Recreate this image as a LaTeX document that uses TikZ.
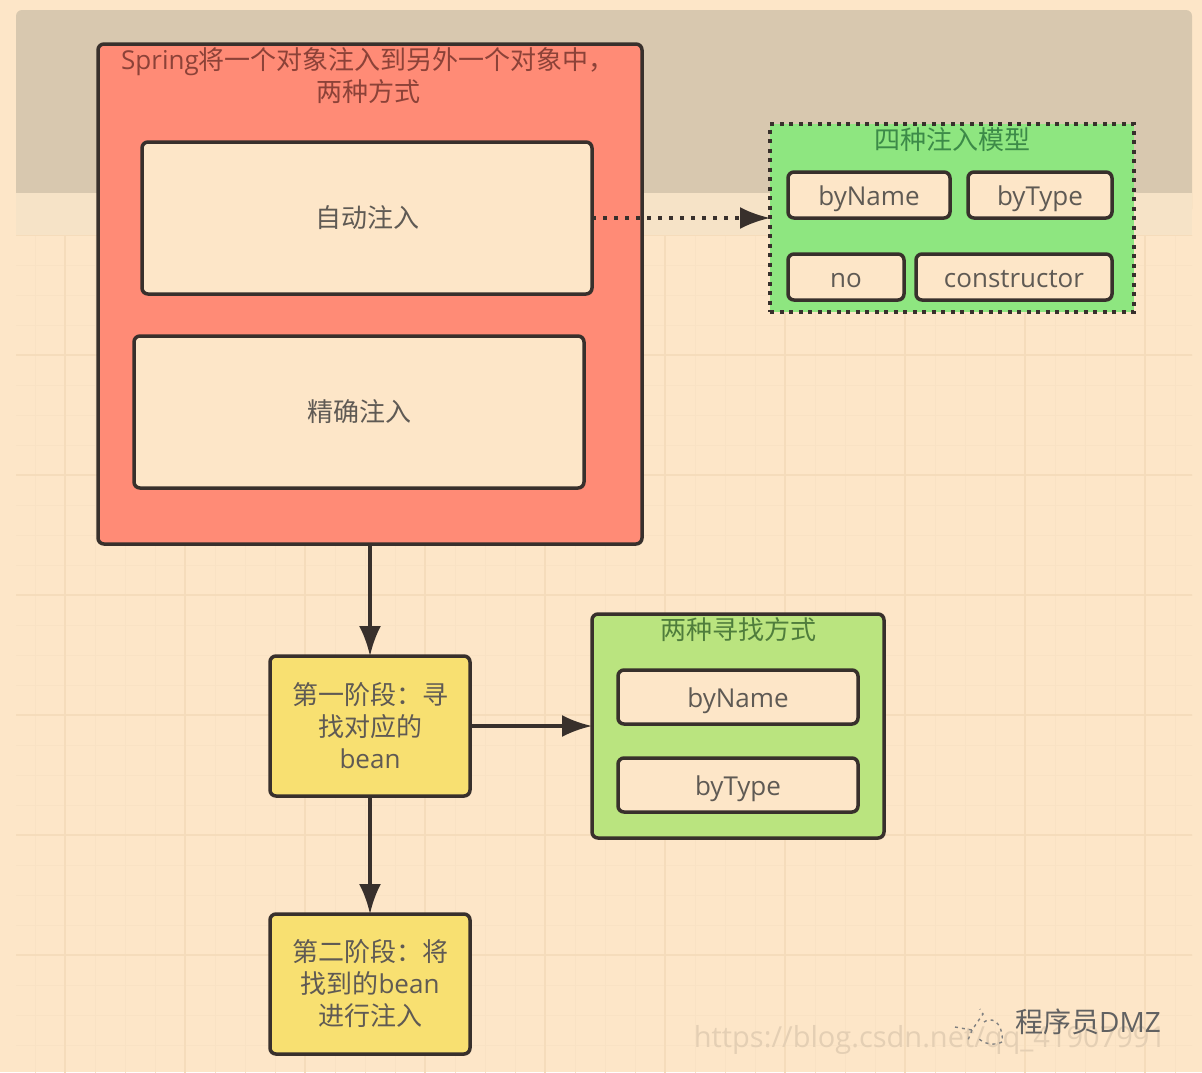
\documentclass[tikz,border=0pt]{standalone}
\usepackage{fontspec}
\setmainfont{Open Sans}
\newfontfamily\cjk{Noto Sans CJK SC}
\usetikzlibrary{arrows.meta,positioning}
\definecolor{pagebg}{HTML}{FDE6C8}
\definecolor{bandbg}{HTML}{D8C8AF}
\definecolor{stripbg}{HTML}{F6E3C7}
\definecolor{gridminor}{HTML}{F9E2C4}
\definecolor{gridmajor}{HTML}{F5DCBB}
\definecolor{redbg}{HTML}{FF8B76}
\definecolor{greenbg}{HTML}{8EE680}
\definecolor{limebg}{HTML}{BAE47F}
\definecolor{yellowbg}{HTML}{F8E071}
\definecolor{edgedark}{HTML}{38302C}
\definecolor{textgrey}{HTML}{5F5A54}
\definecolor{redtitle}{HTML}{8C4238}
\definecolor{greentitle}{HTML}{3C8A48}
\definecolor{limetitle}{HTML}{4F7D3C}
\tikzset{
    basic/.style  = {draw=edgedark, line width=3.5pt, rectangle, rounded corners=6pt, outer sep=0pt, inner sep=2pt, align=center, font=\fontsize{26}{32}\selectfont, text=textgrey},
    outer red/.style = {basic, fill=redbg, minimum width=544pt, minimum height=500pt},
    inner box/.style = {basic, fill=pagebg},
    wide entry/.style = {inner box, minimum width=450pt, minimum height=152pt},
    word entry/.style = {inner box, text height=20pt, text depth=0pt},
    phase/.style = {basic, fill=yellowbg, minimum width=200pt, minimum height=140pt},
    model group/.style = {basic, rounded corners=0pt, fill=greenbg, dash pattern=on 4pt off 5.5pt, line width=4pt, minimum width=364pt, minimum height=188pt},
    search group/.style = {basic, fill=limebg, minimum width=292pt, minimum height=224pt},
    title/.style = {font=\fontsize{26}{32}\selectfont, align=center, inner sep=0pt},
    link/.style = {draw=edgedark, line width=3.5pt, -{Latex[length=30pt,width=22pt]}}
}
\begin{document}
\begin{tikzpicture}[x=1pt,y=-1pt]
	% page and screenshot backdrop
	\fill[pagebg] (0,0) rectangle (1202,1072);
	\fill[bandbg, rounded corners=6pt] (16,10) rectangle (1192,215);
	\fill[stripbg] (16,193) rectangle (1192,235);
	\begin{scope}
		\clip (16,235) rectangle (1192,1072);
		\draw[gridminor, line width=1pt, shift={(5,25)}, step=30pt] (0,200) grid (1200,1060);
		\draw[gridmajor, line width=1.2pt, shift={(65,235)}, step=120pt] (-120,0) grid (1200,840);
	\end{scope}
	% watermark
	\node[font=\fontsize{29}{32}\selectfont, text=pagebg!90!black, inner sep=0pt] (blogmark) at (930,1040) {https://blog.csdn.net/qq\_41907991};
	\node[font=\fontsize{28}{32}\selectfont, text=black!62, inner sep=0pt] (brandmark) at (1088,1022) {{\cjk 程序员}DMZ};
	\draw[black!50, line width=1.4pt, dash pattern=on 3pt off 4pt] (955,1027) -- (972,1030) -- (983,1014) -- (980,1009) (972,1030) -- (968,1040) (984,1022) .. controls (996,1014) and (1004,1030) .. (1002,1042) (1002,1042) .. controls (994,1046) and (984,1044) .. (978,1038);
	% main block
	\node[outer red] (inject) at (370,294) {};
	\node[title, text=redtitle] (injecttitle) at (368,76) {Spring{\cjk 将一个对象注入到另外一个对象中，}\\{\cjk 两种方式}};
	\node[wide entry] (autoinject) at (367,218) {\cjk 自动注入};
	\node[wide entry, below=42pt of autoinject, xshift=-8pt] (exactinject) {\cjk 精确注入};
	% four models
	\node[model group, right=178pt of autoinject] (models) {};
	\node[title, text=greentitle] (modelstitle) at (952,140) {\cjk 四种注入模型};
	\node[word entry, minimum width=162pt, minimum height=46pt] (modelname) at (869,195) {byName};
	\node[word entry, minimum width=144pt, minimum height=46pt] (modeltype) at (1040,195) {byType};
	\node[word entry, minimum width=116pt, minimum height=46pt] (modelno) at (846,277) {no};
	\node[word entry, minimum width=196pt, minimum height=46pt] (modelctor) at (1014,277) {constructor};
	% phases
	\node[phase, below=112pt of inject] (findbean) {{\cjk 第一阶段：寻}\\{\cjk 找对应的}\\bean};
	\node[phase, below=118pt of findbean] (wirebean) {{\cjk 第二阶段：将}\\{\cjk 找到的}bean\\{\cjk 进行注入}};
	\node[search group, right=122pt of findbean] (search) {};
	\node[title, text=limetitle] (searchtitle) at (738,630) {\cjk 两种寻找方式};
	\node[word entry, minimum width=240pt, minimum height=54pt] (searchname) at (738,697) {byName};
	\node[word entry, minimum width=240pt, minimum height=54pt] (searchtype) at (738,785) {byType};
	% connectors
	\draw[link, dash pattern=on 4pt off 7pt] (autoinject) -- (models);
	\draw[link] (inject) -- (findbean);
	\draw[link] (findbean) -- (search);
	\draw[link] (findbean) -- (wirebean);
\end{tikzpicture}
\end{document}
